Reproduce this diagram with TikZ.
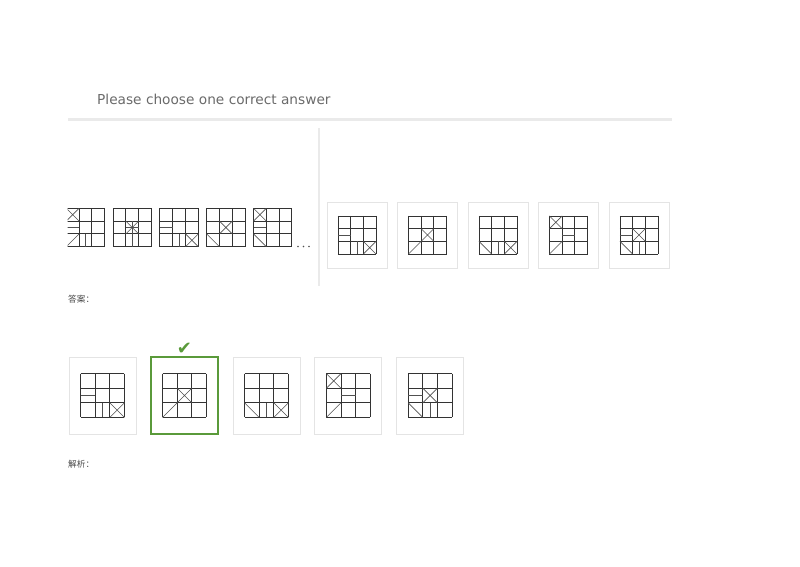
\documentclass[tikz,border=0pt]{standalone}
\usepackage{fontspec}
\setmainfont{DejaVu Sans}
\newfontfamily\cjk{Noto Sans CJK SC}
\usepackage{tikz}
\usetikzlibrary{positioning}
\definecolor{linegray}{HTML}{333333}
\definecolor{markgray}{HTML}{505050}
\definecolor{boxgray}{HTML}{E4E4E4}
\definecolor{rulegray}{HTML}{EAEAEA}
\definecolor{titlegray}{HTML}{6A6A6A}
\definecolor{labelgray}{HTML}{4A4A4A}
\definecolor{okgreen}{HTML}{5A9A3A}
\tikzstyle{optbox} = [rectangle, draw=boxgray, line width=0.8pt, fill=white, minimum width=60pt, minimum height=66pt, inner sep=0pt]
\tikzstyle{ansbox} = [rectangle, draw=boxgray, line width=0.8pt, fill=white, minimum width=67pt, minimum height=77pt, inner sep=0pt]
\tikzstyle{picked} = [draw=okgreen, line width=1.2pt]
\tikzstyle{gridline} = [draw=linegray, line width=0.9pt]
\tikzstyle{markline} = [draw=markgray, line width=0.6pt]
\tikzstyle{cnlabel} = [font=\cjk\fontsize{8.7}{10}\selectfont, text=labelgray, inner sep=0pt, anchor=west]
% one 3x3 tile: centre, cell size, marks
\newcommand{\tile}[3]{%
  \begin{scope}[shift={(#1)}, x=#2pt, y=-#2pt]
    \foreach \k in {-1.5,-0.5,0.5,1.5} {
      \draw[gridline] (\k,-1.5) -- (\k,1.5);
      \draw[gridline] (-1.5,\k) -- (1.5,\k);
    }
    #3
  \end{scope}}
% marks in cell (col,row)
\newcommand{\mkX}[2]{\draw[markline] (#1-2.5,#2-2.5) -- (#1-1.5,#2-1.5) (#1-1.5,#2-2.5) -- (#1-2.5,#2-1.5);}
\newcommand{\mkS}[2]{\draw[markline] (#1-2.5,#2-1.5) -- (#1-1.5,#2-2.5);}
\newcommand{\mkB}[2]{\draw[markline] (#1-2.5,#2-2.5) -- (#1-1.5,#2-1.5);}
\newcommand{\mkH}[2]{\draw[markline] (#1-2.5,#2-2) -- (#1-1.5,#2-2);}
\newcommand{\mkV}[2]{\draw[markline] (#1-2,#2-2.5) -- (#1-2,#2-1.5);}

\begin{document}
\begin{tikzpicture}[x=1pt, y=-1pt]
\useasboundingbox (0,0) rectangle (800,566);

% header =============================
\node[font=\fontsize{13.7}{16}\selectfont, text=titlegray, anchor=west, inner sep=0pt] (title) at (97,99) {Please choose one correct answer};
\draw[rulegray, line width=3pt] (68,119) -- (672,119);
\draw[rulegray, line width=2pt] (319,128) -- (319,286);

% sequence
\coordinate (seq1) at (85.5,227.5);
\coordinate[right=46.8pt of seq1] (seq2);
\coordinate[right=46.8pt of seq2] (seq3);
\coordinate[right=46.8pt of seq3] (seq4);
\coordinate[right=46.8pt of seq4] (seq5);

\begin{scope}
\clip (67.5,190) rectangle (110,260);
\tile{seq1}{12.8}{\mkX{1}{1} \mkH{1}{2} \mkS{1}{3} \mkV{2}{3}}
\end{scope}
\tile{seq2}{12.8}{\mkX{2}{2} \mkH{2}{2} \mkV{2}{2} \mkV{2}{3}}
\tile{seq3}{12.8}{\mkH{1}{2} \mkV{2}{3} \mkX{3}{3}}
\tile{seq4}{12.8}{\mkX{2}{2} \mkB{1}{3}}
\tile{seq5}{12.8}{\mkX{1}{1} \mkH{1}{2} \mkB{1}{3}}
\foreach \i in {0,1,2} \fill[markgray] (298+5.5*\i,246.5) circle (0.9pt);

% options
\node[optbox] (optA) at (357,235) {};
\node[optbox, right=9.7pt of optA] (optB) {};
\node[optbox, right=9.7pt of optB] (optC) {};
\node[optbox, right=9.7pt of optC] (optD) {};
\node[optbox, right=9.7pt of optD] (optE) {};

\tile{optA.center}{12.7}{\mkH{1}{2} \mkV{2}{3} \mkX{3}{3}}
\tile{optB.center}{12.7}{\mkX{2}{2} \mkS{1}{3}}
\tile{optC.center}{12.7}{\mkB{1}{3} \mkV{2}{3} \mkX{3}{3}}
\tile{optD.center}{12.7}{\mkX{1}{1} \mkH{2}{2} \mkS{1}{3}}
\tile{optE.center}{12.7}{\mkX{2}{2} \mkH{1}{2} \mkB{1}{3} \mkV{2}{3}}

% answer =============================
\node[cnlabel] (anslabel) at (68,299) {答案：};

\node[ansbox] (ansA) at (102.5,395.5) {};
\node[ansbox, picked, right=14pt of ansA] (ansB) {};
\node[ansbox, right=14pt of ansB] (ansC) {};
\node[ansbox, right=14pt of ansC] (ansD) {};
\node[ansbox, right=14pt of ansD] (ansE) {};
\node[font=\fontsize{18}{18}\selectfont, text=okgreen, above=-2pt of ansB] (check) {✔};

\tile{ansA.center}{14.6}{\mkH{1}{2} \mkV{2}{3} \mkX{3}{3}}
\tile{ansB.center}{14.6}{\mkX{2}{2} \mkS{1}{3}}
\tile{ansC.center}{14.6}{\mkB{1}{3} \mkV{2}{3} \mkX{3}{3}}
\tile{ansD.center}{14.6}{\mkX{1}{1} \mkH{2}{2} \mkS{1}{3}}
\tile{ansE.center}{14.6}{\mkX{2}{2} \mkH{1}{2} \mkB{1}{3} \mkV{2}{3}}

\node[cnlabel] (notelabel) at (68,464) {解析：};

\end{tikzpicture}
\end{document}
